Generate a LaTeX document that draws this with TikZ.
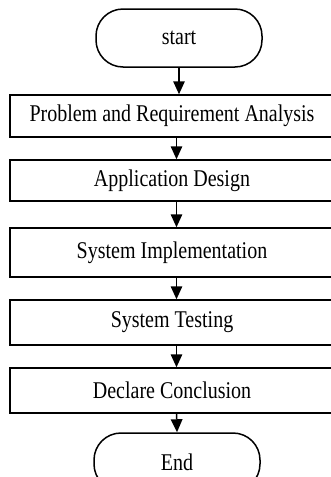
\documentclass[tikz,border=0pt]{standalone}
\usepackage{fontspec}
\setmainfont{Liberation Serif}
\usetikzlibrary{arrows.meta}
% labels are set in a slightly tall, narrow serif
\newcommand{\lbl}[1]{\scalebox{1}[1.2]{#1}}
\begin{document}
\begin{tikzpicture}[x=1pt,y=-1pt,
  every node/.style={font=\fontsize{20}{24}\selectfont, line width=1.5pt, draw, inner sep=0pt},
  terminal/.style={rounded corners=27pt, minimum width=166pt, minimum height=58pt},
  stepbox/.style={minimum width=324pt},
  flow/.style={line width=1.5pt, -{Triangle[length=13pt,width=11.5pt]}}]
  \clip (0,0) rectangle (331,477);
  \fill[white] (0,0) rectangle (331,477);
  % terminals
  \node[terminal] (start) at (179,38) {\lbl{start}};
  \node[terminal] (end) at (177,462) {\lbl{End}};
  % process steps
  \node[stepbox, minimum height=42pt] (b1) at (172,116) {\lbl{Problem and Requirement Analysis}};
  \node[stepbox, minimum height=41pt] (b2) at (172,180.5) {\lbl{Application Design}};
  \node[stepbox, minimum height=49pt] (b3) at (172,252.5) {\lbl{System Implementation}};
  \node[stepbox, minimum height=45pt] (b4) at (172,322.5) {\lbl{System Testing}};
  \node[stepbox, minimum height=45pt] (b5) at (172,390.5) {\lbl{Declare Conclusion}};
  % connectors
  \draw[flow] (start.south) -- (start.south |- b1.north);
  \draw[flow] ([xshift=4.5pt]b1.south) -- ([xshift=4.5pt]b2.north);
  \draw[flow] ([xshift=4.5pt]b2.south) -- ([xshift=4.5pt]b3.north);
  \draw[flow] ([xshift=4.5pt]b3.south) -- ([xshift=4.5pt]b4.north);
  \draw[flow] ([xshift=4.5pt]b4.south) -- ([xshift=4.5pt]b5.north);
  \draw[flow] ([xshift=4.5pt]b5.south) -- (end.north);
\end{tikzpicture}
\end{document}
